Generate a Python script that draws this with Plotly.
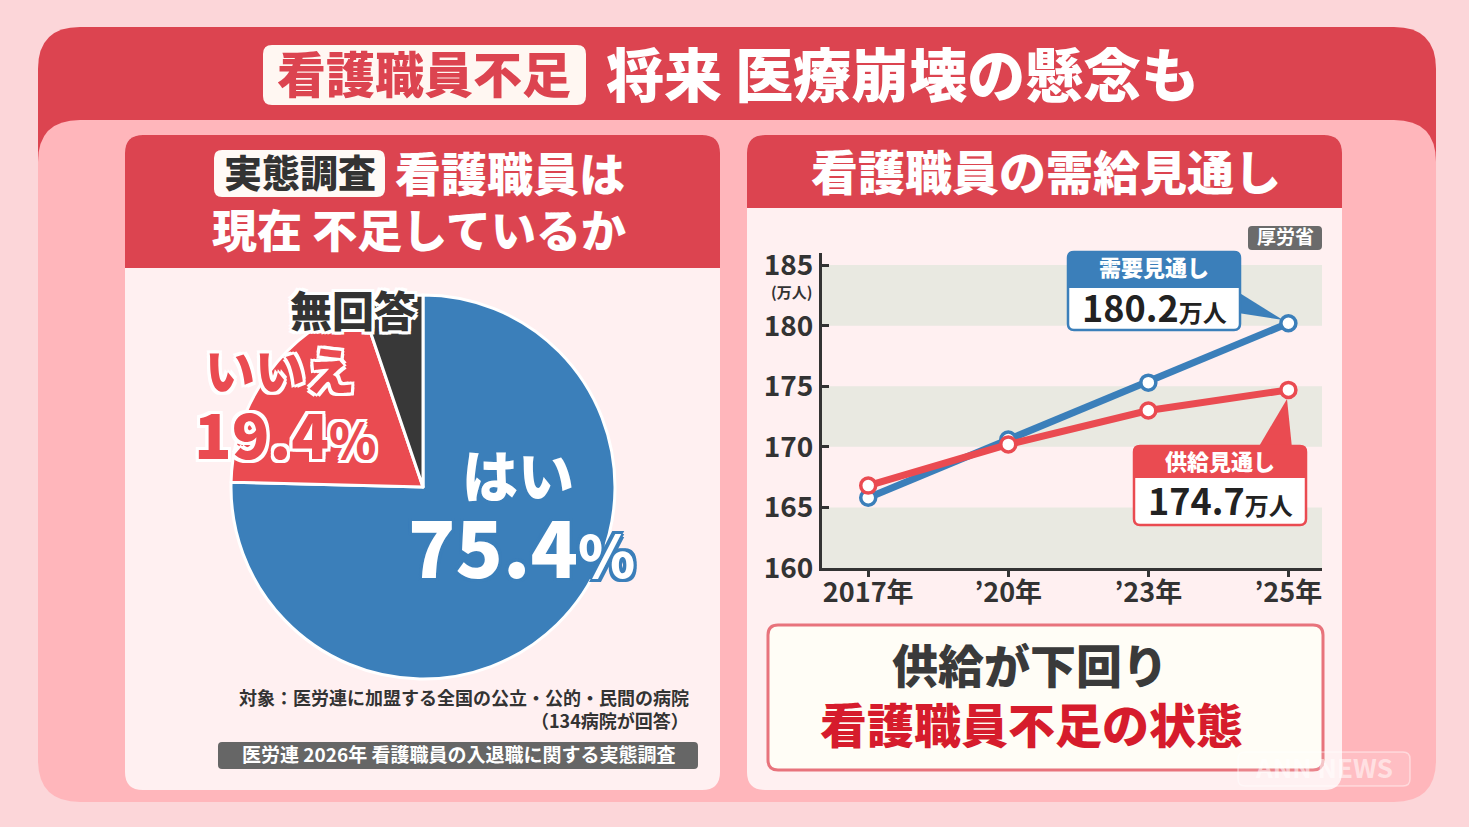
import plotly.graph_objects as go

W, H = 1469, 827

# ---------------- data ----------------
pie_labels = ["はい", "いいえ", "無回答"]
pie_values = [75.4, 19.4, 5.2]
years = ["2017年", "’20年", "’23年", "’25年"]
demand = [165.8, 170.6, 175.3, 180.2]
supply = [166.8, 170.2, 173.0, 174.7]
y_ticks = [160, 165, 170, 175, 180, 185]
demand_label = "180.2"
supply_label = "174.7"

FONT = "Noto Sans CJK JP"
RED = "#dc4450"
BLUE = "#3b7fba"
LRED = "#ea4b51"
DARK = "#333333"
PINK_BG = "#fcd6d9"
PINK_PANEL = "#ffb6bb"
CARD = "#fff0f1"

# chart plot area in pixels
CX0, CX1, CY0, CY1 = 822, 1322, 253, 568


def conv_paper(x, y):
    return x / W, 1 - y / H


def conv_dom(x, y):
    return (x - CX0) / (CX1 - CX0), (CY1 - y) / (CY1 - CY0)


def rrect(x0, y0, x1, y1, r, conv):
    if not isinstance(r, (tuple, list)):
        r = (r, r, r, r)
    tl, tr, br, bl = r
    pts = [
        ("M", [(x0 + tl, y0)]),
        ("L", [(x1 - tr, y0)]),
        ("Q", [(x1, y0), (x1, y0 + tr)]),
        ("L", [(x1, y1 - br)]),
        ("Q", [(x1, y1), (x1 - br, y1)]),
        ("L", [(x0 + bl, y1)]),
        ("Q", [(x0, y1), (x0, y1 - bl)]),
        ("L", [(x0, y0 + tl)]),
        ("Q", [(x0, y0), (x0 + tl, y0)]),
    ]
    s = ""
    for cmd, ps in pts:
        s += cmd + " " + " ".join("%.5f,%.5f" % conv(a, b) for a, b in ps) + " "
    return s + "Z"


def poly(points, conv):
    s = "M " + " L ".join("%.5f,%.5f" % conv(a, b) for a, b in points)
    return s + " Z"


shapes = []


def add_shape(path, fill, ref="paper", line_color=None, line_width=0, layer="below"):
    if ref == "paper":
        xref, yref = "paper", "paper"
    else:
        xref, yref = "x domain", "y domain"
    shapes.append(dict(
        type="path", path=path, xref=xref, yref=yref, fillcolor=fill,
        line=dict(color=line_color or fill, width=line_width), layer=layer,
    ))


P = conv_paper
D = conv_dom

# background panels
add_shape(rrect(38, 27, 1436, 240, (42, 42, 0, 0), P), RED)
add_shape(rrect(38, 120, 1436, 802, 42, P), PINK_PANEL)
add_shape(rrect(263, 45, 586, 105, 9, P), "#fff7f2")
# cards
add_shape(rrect(125, 135, 720, 790, 18, P), CARD)
add_shape(rrect(125, 135, 720, 268, (18, 18, 0, 0), P), RED)
add_shape(rrect(747, 135, 1342, 790, 18, P), CARD)
add_shape(rrect(747, 135, 1342, 208, (18, 18, 0, 0), P), RED)
# left header white box
add_shape(rrect(214, 150, 385, 197, 8, P), "#fffaf6")
# footnote grey box
add_shape(rrect(218, 742, 698, 769, 4, P), "#666666")
# source box
add_shape(rrect(1248, 226, 1322, 250, 4, P), "#6b6b6b")
# bottom message box
add_shape(rrect(768, 625, 1323, 770, 10, P), "#fffdf6", line_color="#e8737c", line_width=3)

# chart stripes (grey bands)
for lo, hi in [(180, 185), (170, 175), (160, 165)]:
    shapes.append(dict(type="rect", xref="x domain", yref="y", x0=0, x1=1, y0=lo, y1=hi,
                       fillcolor="#e9e9e1", line=dict(width=0), layer="below"))

# callouts (below traces, above plot bg)
add_shape(poly([(1238, 292), (1283, 320), (1238, 313)], D), BLUE, ref="dom")
add_shape(rrect(1068, 252, 1240, 330, 6, D), "#ffffff", ref="dom", line_color=BLUE, line_width=2.5)
add_shape(rrect(1068, 252, 1240, 288, (6, 6, 0, 0), D), BLUE, ref="dom")

add_shape(poly([(1258, 448), (1287, 399), (1292, 448)], D), LRED, ref="dom")
add_shape(rrect(1134, 446, 1306, 525, 6, D), "#ffffff", ref="dom", line_color=LRED, line_width=2.5)
add_shape(rrect(1134, 446, 1306, 478, (6, 6, 0, 0), D), LRED, ref="dom")

# watermark
add_shape(rrect(1238, 752, 1410, 786, 7, P), "rgba(255,255,255,0.12)",
          line_color="rgba(255,255,255,0.45)", line_width=1.5, layer="above")

annotations = []
TEXT_DY = -3  # vertical centering correction for the CJK font box


def ann(text, x, y, size, color, xanchor="center", shadow=None, weight=900):
    f = dict(family=FONT, size=size, color=color, weight=weight)
    if shadow:
        f["shadow"] = shadow
    annotations.append(dict(
        text=text, x=x / W, y=1 - (y + TEXT_DY) / H, xref="paper", yref="paper",
        xanchor=xanchor, yanchor="middle", showarrow=False, font=f,
    ))


def outline(c, w=3):
    parts = []
    for dx, dy in [(w, 0), (-w, 0), (0, w), (0, -w), (w, w), (-w, -w), (w, -w), (-w, w)]:
        parts.append("%dpx %dpx 0 %s" % (dx, dy, c))
    return ", ".join(parts)


# header
ann("看護職員不足", 424, 75, 49, RED)
ann("将来 医療崩壊の懸念も", 604, 75, 58, "#ffffff", xanchor="left")
# left card header
ann("実態調査", 299.5, 174, 38, DARK)
ann("看護職員は", 393, 174, 46, "#ffffff", xanchor="left")
ann("現在 不足しているか", 210, 232, 45, "#ffffff", xanchor="left")
# right card header
ann("看護職員の需給見通し", 1046, 172, 47, "#ffffff")

# pie labels
ann(pie_labels[2], 353, 311, 42, DARK, shadow=outline("#ffffff", 3))
ann(pie_labels[1], 280, 371, 50, LRED, shadow=outline("#ffffff", 3))
ann("%.1f<span style='font-size:48px'>%%</span>" % pie_values[1], 285, 435, 62, LRED,
    shadow=outline("#ffffff", 3))
ann(pie_labels[0], 518, 475, 56, "#ffffff")
ann("%.1f<span style='font-size:58px'>%%</span>" % pie_values[0], 521, 547, 78, "#ffffff",
    shadow=outline(BLUE, 3))

# footnotes
ann("対象：医労連に加盟する全国の公立・公的・民間の病院", 691, 700, 18, DARK, xanchor="right", weight=700)
ann("（134病院が回答）", 691, 723, 18, DARK, xanchor="right", weight=700)
ann("医労連 2026年 看護職員の入退職に関する実態調査", 458, 756, 19, "#ffffff", weight=700)

# chart texts
ann("厚労省", 1285, 238, 19, "#ffffff", weight=700)
ann("(万人)", 791, 294, 15, DARK, weight=700)
ann("需要見通し", 1154, 269, 22, "#ffffff")
ann(demand_label + "<span style='font-size:24px'>万人</span>", 1154, 309, 36, "#222222", weight=700)
ann("供給見通し", 1220, 463, 22, "#ffffff")
ann(supply_label + "<span style='font-size:24px'>万人</span>", 1220, 502, 36, "#222222", weight=700)

# bottom message
ann("供給が下回り", 1030, 666, 46, "#3a3a3a")
ann("看護職員不足の状態", 1031, 725, 47, "#d61c2c")

# watermark
ann("ANN NEWS", 1324, 769, 26, "rgba(255,255,255,0.55)", weight=700)

fig = go.Figure()

# pie
pcx, pcy, pr = 423, 487, 192
fig.add_trace(go.Pie(
    labels=pie_labels, values=pie_values, sort=False, direction="clockwise", rotation=0,
    marker=dict(colors=[BLUE, LRED, "#383838"], line=dict(color="#ffffff", width=3)),
    textinfo="none", hoverinfo="skip", showlegend=False, automargin=False,
    domain=dict(x=[(pcx - pr) / W, (pcx + pr) / W],
                y=[(H - pcy - pr) / H, (H - pcy + pr) / H]),
))

# lines
for vals, col in [(demand, BLUE), (supply, LRED)]:
    fig.add_trace(go.Scatter(
        x=years, y=vals, mode="lines+markers",
        line=dict(color=col, width=7),
        marker=dict(symbol="circle", size=15, color="#ffffff", line=dict(color=col, width=3.5)),
        cliponaxis=False, hoverinfo="skip", showlegend=False,
    ))

fig.update_layout(
    width=W, height=H, margin=dict(l=0, r=0, t=0, b=0, pad=0, autoexpand=False),
    paper_bgcolor=PINK_BG, plot_bgcolor="#fdfdf5",
    font=dict(family=FONT, color=DARK),
    shapes=shapes, annotations=annotations, showlegend=False,
    xaxis=dict(
        domain=[CX0 / W, CX1 / W], type="category", range=[-0.33, 3.24], automargin=False,
        showline=True, linecolor=DARK, linewidth=3, ticks="outside", ticklen=6,
        tickwidth=2.5, tickcolor=DARK, showgrid=False, zeroline=False, ticklabelstandoff=-7,
        tickfont=dict(family=FONT, size=27, color=DARK, weight=700),
    ),
    yaxis=dict(
        domain=[1 - CY1 / H, 1 - CY0 / H], range=[160, 186], tickvals=y_ticks, automargin=False,
        showline=True, linecolor=DARK, linewidth=3, ticks="inside", ticklen=7,
        tickwidth=2.5, tickcolor=DARK, showgrid=False, zeroline=False,
        tickfont=dict(family=FONT, size=28, color=DARK, weight=700),
    ),
)

fig.write_html("out.html", config={"displayModeBar": False},
               post_script="document.body.style.margin='0';document.body.style.overflow='hidden';")
